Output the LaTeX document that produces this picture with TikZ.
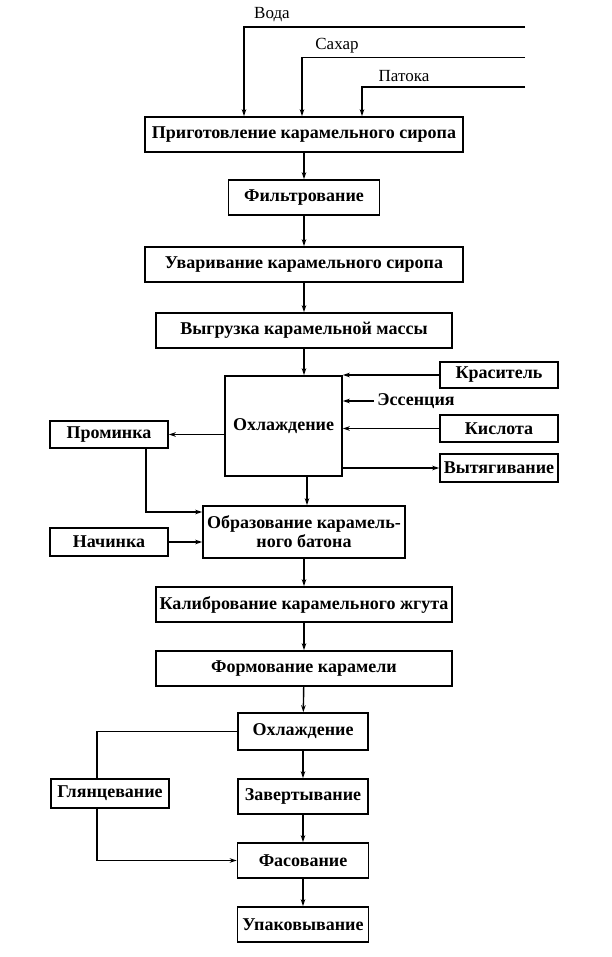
\documentclass[tikz,border=0pt]{standalone}
\usepackage{fontspec}
\setmainfont{Liberation Serif}
\usepackage{tikz}
\usetikzlibrary{arrows.meta,calc}
\tikzset{
  box/.style={draw, line width=1.6pt, inner sep=0pt, minimum height=35pt, align=center, font=\fontsize{18}{20}\selectfont\bfseries},
  arr/.style={line width=1.4pt, -{Stealth[length=7pt,width=4.5pt]}},
  ln/.style={line width=1.4pt}
}
\begin{document}
\begin{tikzpicture}[x=1pt,y=-1pt,font=\fontsize{17}{19}\selectfont]
    \useasboundingbox (0,0) rectangle (612,957);
    \node[box, minimum width=318pt] (prig) at (304,134.5) {Приготовление карамельного сиропа};
    \node[box, minimum width=151pt] (filtr) at (304,197.5) {Фильтрование};
    \node[box, minimum width=318pt] (uvar) at (304,264.5) {Уваривание карамельного сиропа};
    \node[box, minimum width=296pt] (vygr) at (304,330.5) {Выгрузка карамельной массы};
    \node[box, minimum width=117pt, minimum height=100pt] (okhl) at (283.5,426) {Охлаждение};
    \node[box, minimum width=118pt, minimum height=26pt] (kras) at (499,375) {Краситель};
    \node[inner sep=3pt, font=\fontsize{18}{20}\selectfont\bfseries] (ess) at (416,401) {Эссенция};
    \node[box, minimum width=118pt, minimum height=27pt] (kisl) at (499,428.5) {Кислота};
    \node[box, minimum width=118pt, minimum height=28pt] (vyt) at (499,468) {Вытягивание};
    \node[box, minimum width=118pt, minimum height=27pt] (prom) at (109,434.5) {Проминка};
    \node[box, minimum width=202pt, minimum height=52pt, font=\fontsize{18}{19}\selectfont\bfseries] (obraz) at (304,532) {Образование карамель-\\ного батона};
    \node[box, minimum width=118pt, minimum height=28pt] (nach) at (109,542) {Начинка};
    \node[box, minimum width=296pt] (kalib) at (304,604.5) {Калибрование карамельного жгута};
    \node[box, minimum width=296pt] (form) at (304,668.5) {Формование карамели};
    \node[box, minimum width=130pt, minimum height=37pt] (okhlB) at (303,731.5) {Охлаждение};
    \node[box, minimum width=118pt, minimum height=29pt] (glyan) at (110,793.5) {Глянцевание};
    \node[box, minimum width=130pt] (zavert) at (303,796.5) {Завертывание};
    \node[box, minimum width=131pt] (fas) at (303,860.5) {Фасование};
    \node[box, minimum width=131pt] (upak) at (303,924.5) {Упаковывание};

    \coordinate (inVoda) at (525,27);
    \coordinate (inSakhar) at (525,57.5);
    \coordinate (inPatoka) at (525,87);
    \node (lVoda) at (272,15) {Вода};
    \node (lSakhar) at (337,46) {Сахар};
    \node (lPatoka) at (404,76) {Патока};
    \draw[arr] (inVoda) -| ([xshift=-60pt]prig.north);
    \draw[arr] (inSakhar) -| ([xshift=-2pt]prig.north);
    \draw[arr] (inPatoka) -| ([xshift=58pt]prig.north);

    \draw[arr] (prig) -- (filtr);
    \draw[arr] (filtr) -- (uvar);
    \draw[arr] (uvar) -- (vygr);
    \draw[arr] (vygr.south) -- (vygr.south |- okhl.north);
    \draw[arr] (kras.west) -- (kras.west -| okhl.east);
    \draw[arr] (ess.west) -- (ess.west -| okhl.east);
    \draw[arr] (kisl.west) -- (kisl.west -| okhl.east);
    \draw[arr] (okhl.east |- vyt.west) -- (vyt.west);
    \draw[arr] (okhl.west |- prom.east) -- (prom.east);
    \draw[arr] ([xshift=37pt]prom.south) |- ([yshift=20pt]obraz.west);
    \draw[arr] (nach.east) -- (nach.east -| obraz.west);
    \draw[arr] ([xshift=3pt]obraz.north |- okhl.south) -- ([xshift=3pt]obraz.north);
    \draw[arr] (obraz) -- (kalib);
    \draw[arr] (kalib) -- (form);
    \draw[arr] (form) -- (okhlB);
    \draw[arr] (okhlB) -- (zavert);
    \draw[arr] (zavert) -- (fas);
    \draw[arr] (fas) -- (upak);
    \draw[ln] (okhlB.west) -| ([xshift=-13pt]glyan.north);
    \draw[arr] ([xshift=-13pt]glyan.south) |- (fas.west);
\end{tikzpicture}
\end{document}
